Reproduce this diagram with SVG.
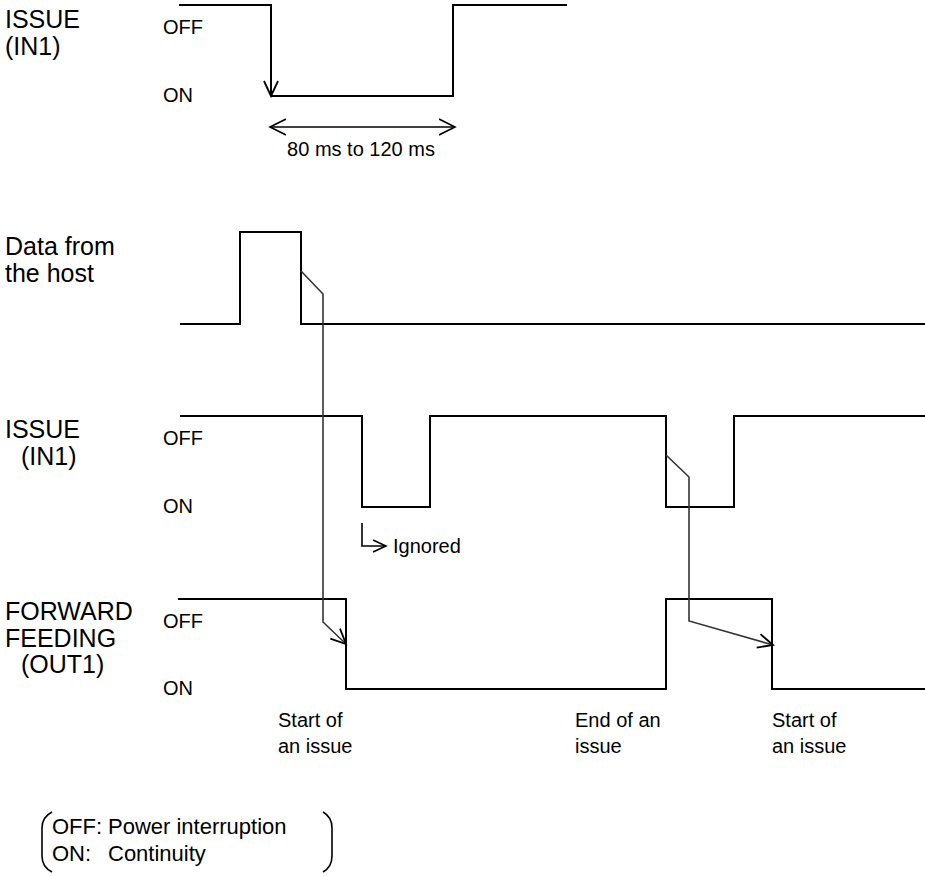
<svg xmlns="http://www.w3.org/2000/svg" width="925" height="876" viewBox="0 0 925 876">
<defs>
<style>
.t{font-family:"Liberation Sans",Arial,sans-serif;fill:#000}
.big{font-size:25px}
.sm{font-size:20px}
.lg{font-size:22px}
.w{fill:none;stroke:#000;stroke-width:2}
.c{fill:none;stroke:#333;stroke-width:1.6}
</style>
<marker id="ah" markerUnits="userSpaceOnUse" markerWidth="20" markerHeight="20" viewBox="-16 -10 20 20" refX="0" refY="0" orient="auto">
<path d="M-15 -7 L0 0 L-15 7" fill="none" stroke="#000" stroke-width="1.8"/>
</marker>
<marker id="ahs" markerUnits="userSpaceOnUse" markerWidth="20" markerHeight="20" viewBox="-16 -10 20 20" refX="0" refY="0" orient="auto">
<path d="M-13 -6 L0 0 L-13 6" fill="none" stroke="#000" stroke-width="1.6"/>
</marker>
<marker id="ahd" markerUnits="userSpaceOnUse" markerWidth="20" markerHeight="20" viewBox="-16 -10 20 20" refX="0" refY="0" orient="auto-start-reverse">
<path d="M-16 -8 L0 0 L-16 8" fill="none" stroke="#000" stroke-width="1.6"/>
</marker>
</defs>
<rect width="925" height="876" fill="#fff"/>

<g id="top-issue">
<text class="t big" x="5" y="28">ISSUE</text>
<text class="t big" x="5" y="55">(IN1)</text>
<text class="t sm" x="163" y="34">OFF</text>
<text class="t sm" x="163" y="102">ON</text>
<path class="w" d="M179 5 H271 V96" marker-end="url(#ah)"/>
<path class="w" d="M271 96 H453 V5 H567"/>
<path d="M270 127 H455" fill="none" stroke="#000" stroke-width="1.6" marker-start="url(#ahd)" marker-end="url(#ahd)"/>
<text class="t sm" x="361" y="156" text-anchor="middle">80 ms to 120 ms</text>
</g>

<g id="data-host">
<text class="t big" x="5" y="255">Data from</text>
<text class="t big" x="5" y="282">the host</text>
<path class="w" d="M180 324 H240 V232 H301 V324 H925"/>
</g>

<g id="issue-in1">
<text class="t big" x="5" y="438">ISSUE</text>
<text class="t big" x="21" y="465">(IN1)</text>
<text class="t sm" x="163" y="445">OFF</text>
<text class="t sm" x="163" y="513">ON</text>
<path class="w" d="M180 416 H362 V507 H430 V416 H666 V507 H734 V416 H925"/>
</g>

<g id="ignored">
<path d="M362 523 V546 H386" fill="none" stroke="#000" stroke-width="1.6" marker-end="url(#ahs)"/>
<text class="t sm" x="393" y="553">Ignored</text>
</g>

<g id="forward-feeding">
<text class="t big" x="5" y="620">FORWARD</text>
<text class="t big" x="5" y="647">FEEDING</text>
<text class="t big" x="21" y="673">(OUT1)</text>
<text class="t sm" x="163" y="628">OFF</text>
<text class="t sm" x="163" y="695">ON</text>
<path class="w" d="M178 599 H346 V689 H666 V599 H772 V689 H925"/>
</g>

<g id="events">
<text class="t sm" x="278" y="727">Start of</text>
<text class="t sm" x="278" y="753">an issue</text>
<text class="t sm" x="575" y="727">End of an</text>
<text class="t sm" x="575" y="753">issue</text>
<text class="t sm" x="772" y="727">Start of</text>
<text class="t sm" x="772" y="753">an issue</text>
</g>

<g id="connectors">
<path class="c" d="M301 271 L323 294 V622 L346 644" marker-end="url(#ah)"/>
<path class="c" d="M666 455 L689 477 V621 L773 645" marker-end="url(#ah)"/>
</g>

<g id="legend">
<path d="M52 812 Q42 817 42 828 V856 Q42 867 52 872" fill="none" stroke="#000" stroke-width="1.6"/>
<path d="M323 812 Q332 817 332 828 V856 Q332 867 323 872" fill="none" stroke="#000" stroke-width="1.6"/>
<text class="t lg" x="52" y="834">OFF:</text>
<text class="t lg" x="108" y="834">Power interruption</text>
<text class="t lg" x="52" y="861">ON:</text>
<text class="t lg" x="108" y="861">Continuity</text>
</g>
</svg>
